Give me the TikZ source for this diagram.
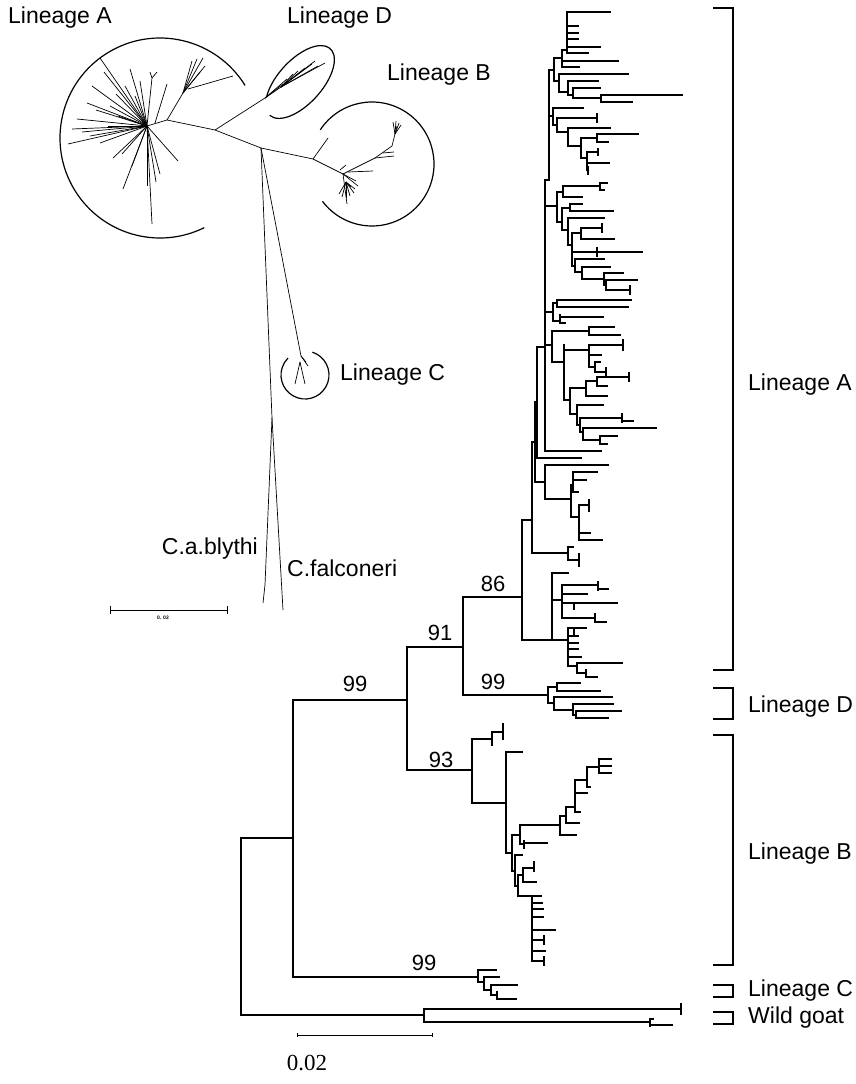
\documentclass[tikz,border=0pt]{standalone}
\usepackage{fontspec}
\setmainfont{Liberation Sans}
\newfontfamily\timesfont{Liberation Serif}
\usetikzlibrary{calc}
\tikzset{
  branch/.style={line width=1.1pt,line cap=rect},
  twig/.style={line width=.7pt},
  ring/.style={line width=1.2pt},
  bracket/.style={line width=1.2pt},
  boot/.style={font=\fontsize{22}{24}\selectfont,inner sep=0pt,anchor=base},
  lin/.style={font=\fontsize{23}{26}\selectfont,inner sep=0pt,anchor=west},
}
\begin{document}
\begin{tikzpicture}[x=1pt,y=-1pt]
\useasboundingbox (0,0) rectangle (856,1084);

% ---------- unrooted network (top left) ----------
\begin{scope}[shift={(0,-14)}]
\coordinate (hubA) at (147,140);
\coordinate (jA) at (167,134);
\coordinate (jD) at (215,144);
\coordinate (jO) at (261,162);
\coordinate (jX) at (313,173);
\coordinate (hubB) at (343,188);
\coordinate (tipD) at (265,112);
\coordinate (fanD) at (281,101);
\coordinate (subA) at (183,107);
\coordinate (subB) at (375,172);
\draw[twig] (hubA) -- (jA) -- (jD) -- (jO) -- (jX) -- (hubB);
\draw[twig] (jD) -- (tipD) -- (fanD);
\draw[twig] (jX) -- (328,152);
% lineage A star
\foreach \p in {(100,72),(104,86),(116,108),(92,100),(87,117),(96,124),(77,133),
  (72,143),(82,146),(68,158),(90,150),(100,157),(113,172),(122,168),(123,203),
  (132,180),(147,200),(152,238),(156,196),(160,188),(178,175),(130,83),(140,95),
  (125,100),(108,140),(118,130),(110,120),(135,110)}
  \draw[twig] (hubA) -- \p;
\draw[twig] (hubA) -- (152,92) -- (150,86);
\draw[twig] (152,92) -- (157,86);
\draw[twig] (155,137) -- (167,98);
\draw[twig] (jA) -- (subA);
\foreach \p in {(192,75),(197,73),(203,72),(205,80),(200,86)}
  \draw[twig] (subA) -- \p;
\draw[twig] (188,103) -- (233,90);
% lineage D fan
\foreach \p in {(315,75),(325,77),(318,80),(312,78),(305,82),(298,85),(293,88)}
  \draw[twig] (fanD) -- \p;
\draw[twig] (tipD) -- (287,93);
\draw[twig] (tipD) -- (283,98);
% lineage B
\draw[twig] (hubB) -- (subB) -- (392,160) -- (397,140);
\foreach \p in {(393,136),(396,135),(399,137),(401,139)}
  \draw[twig] (395,148) -- \p;
\draw[twig] (348,186) -- (373,185);
\draw[twig] (subB) -- (394,170);
\draw[twig] (383,167) -- (394,166);
\draw[twig] (340,184) -- (346,179);
\draw[twig] (hubB) -- (347,218);
\foreach \p in {(339,208),(342,211),(346,212),(350,210),(354,207),(355,203),(351,201)}
  \draw[twig] (346,196) -- \p;
\draw[twig] (hubB) -- (358,200);
\draw[twig] (hubB) -- (356,195);
% rings
\coordinate (cA) at (160,152);
\coordinate (cB) at (372,178);
\draw[ring] ([shift={(-31.7:100)}]cA) arc[start angle=-31.7,end angle=-296.3,radius=100];
\draw[ring] ([shift={(213.5:62)}]cB) arc[start angle=213.5,end angle=503,radius=62];
\begin{scope}[shift={(300,96)},rotate=47.7]
  \draw[ring] (221:45 and 22) arc[start angle=221,end angle=540,x radius=45,y radius=22];
\end{scope}
\end{scope}
% lineage C and the two outgroups
\coordinate (tipC) at (301,356);
\coordinate (split) at (272,418);
\coordinate (bly) at (263,603);
\coordinate (fal) at (283,610);
\coordinate (cC) at (305,375);
\draw[twig] (jO) -- (split);
\draw[twig] (jO) -- (tipC);
\draw[twig] (split) -- (265,585) -- (bly);
\draw[twig] (split) -- (fal);
\draw[twig] (tipC) -- (308,366);
\draw[twig] (tipC) -- (306,362);
\draw[twig] (300,362) -- (295,384);
\draw[twig] (300,362) -- (305,384);
\draw[ring] ([shift={(288:24)}]cC) arc[start angle=288,end angle=585,radius=24];
\node[lin] (uA) at (8,18) {Lineage A};
\node[lin] (uD) at (287,18) {Lineage D};
\node[lin] (uB) at (387,75) {Lineage B};
\node[lin] (uC) at (340,375) {Lineage C};
\node[lin,anchor=east] (uBly) at (258,549) {C.a.blythi};
\node[lin] (uFal) at (287,568) {C.falconeri};
% scale bar (network)
\coordinate (sbA) at (110,610);
\coordinate (sbB) at (227,610);
\draw[line width=1pt] (sbA) -- (sbB);
\draw[line width=1pt] (sbA) ++(0,-4) -- ++(0,8);
\draw[line width=1pt] (sbB) ++(0,-4) -- ++(0,8);
\node[font=\fontsize{5}{6}\selectfont\bfseries,inner sep=0pt] (sbT) at (163,618) {0. 02};

% ---------- rooted tree ----------
\coordinate (root) at (241,926);
\coordinate (nABCD) at (293,838);
\coordinate (nADB) at (407,700);
\coordinate (nC) at (478,977);
\coordinate (nG) at (424,1015);
\coordinate (nAD) at (463,647);
\coordinate (nB) at (472,770);
\coordinate (nA) at (522,597);
\coordinate (nD) at (548,695);
\draw[branch] (root) |- (nABCD);
\draw[branch] (root) |- (nG);
\draw[branch] (nABCD) |- (nADB);
\draw[branch] (nABCD) |- (nC);
\draw[branch] (nADB) |- (nAD);
\draw[branch] (nADB) |- (nB);
\draw[branch] (nAD) |- (nA);
\draw[branch] (nAD) |- (nD);
\node[boot] (b86) at (493,591) {86};
\node[boot] (b91) at (440,640) {91};
\node[boot] (b99a) at (355,691) {99};
\node[boot] (b99d) at (493,689) {99};
\node[boot] (b93) at (441,767) {93};
\node[boot] (b99c) at (424,970) {99};

% lineage A, vertical segments x/y1/y2
\foreach \x/\ya/\yb in {567/12/53, 562/50/67, 554/58/81, 559/74/92, 568/81/95,
  573/88/98, 601/95/102, 549/70/180, 545/180/451,
  553/108/125, 557/118/132, 568/128/146, 581/138/158, 597/134/142, 587/152/170,
  597/114/122, 598/149/155, 588/167/174,
  557/192/222, 563/186/197, 600/183/190, 562/208/230, 570/204/211, 568/218/245,
  572/233/266, 581/228/239, 602/224/232, 597/248/256,
  575/259/272, 582/267/279, 604/273/285, 606/280/290, 630/286/294,
  553/303/321, 557/300/307, 560/315/323,
  552/331/362, 589/327/335, 564/345/400, 589/345/367, 623/340/350, 595/362/372,
  606/368/376, 570/388/414, 586/381/396, 597/377/386, 629/373/381, 577/405/425,
  580/418/432, 622/414/422, 583/428/440, 600/436/444,
  537/347/458, 535/402/482, 545/465/499, 532/442/553,
  571/485/517, 573/472/492, 579/505/540, 589/500/511,
  568/547/560, 579/554/566, 522/520/640,
  552/573/640, 562/585/618, 598/582/590, 574/603/609, 595/614/622, 568/628/666,
  574/628/634, 577/663/673, 586/670/677}
  \draw[branch] (\x,\ya) -- (\x,\yb);
% lineage A, horizontal segments x1/x2/y
\foreach \xa/\xb/\y in {567/610/12, 567/578/26, 567/578/33, 567/578/39, 567/600/47,
  567/588/53, 562/567/50, 562/618/61, 562/579/67, 554/562/58, 554/559/81,
  559/628/74, 559/568/92, 568/598/81, 568/573/95, 573/600/88, 573/601/98,
  601/682/95, 601/632/102, 549/554/70,
  549/553/116, 553/583/108, 553/557/125, 557/597/118, 557/568/132, 568/610/128,
  568/581/146, 581/597/138, 597/638/134, 597/608/142, 581/587/158, 587/598/152,
  587/609/163, 587/588/170, 545/549/180,
  545/557/206, 557/563/192, 563/600/186, 600/607/183, 600/604/190, 563/582/197,
  557/562/222, 562/570/208, 570/582/204, 570/613/211, 562/568/230, 568/604/218,
  568/572/245, 572/581/233, 581/602/228, 581/614/239, 572/642/252, 572/575/266,
  575/604/259, 575/582/272, 582/610/267, 582/604/279, 604/623/273, 604/606/285,
  606/637/280, 606/630/290,
  545/553/312, 553/557/303, 557/631/300, 557/628/307, 553/560/321, 560/603/317,
  560/565/323,
  545/552/345, 552/589/331, 589/614/327, 589/620/335, 552/564/362, 564/589/350,
  589/623/345, 589/601/355, 589/595/367, 595/600/362, 595/606/372, 564/570/400,
  570/586/388, 586/597/381, 597/629/377, 597/607/386, 586/607/396, 570/577/414,
  577/603/405, 577/580/425, 580/622/418, 622/633/421, 580/583/432, 583/656/428,
  583/600/440, 600/617/436, 600/607/444,
  545/601/451, 537/545/347, 537/581/458, 535/537/402, 535/545/482, 545/608/465,
  545/571/499, 532/535/442, 532/568/553,
  571/573/485, 573/597/472, 573/586/480, 573/578/492, 571/579/517, 579/589/505,
  579/590/533, 579/602/540, 568/573/547, 568/579/560,
  522/532/520, 522/552/640,
  552/568/573, 552/562/600, 552/568/640, 562/598/585, 598/608/589, 562/587/594,
  562/617/603, 562/595/618, 595/606/622, 568/586/628, 568/578/636, 568/578/643,
  568/578/649, 568/581/657, 568/577/666, 577/622/663, 577/586/673, 586/597/677}
  \draw[branch] (\xa,\y) -- (\xb,\y);

% lineage D
\foreach \x/\ya/\yb in {548/687/703, 557/683/691, 554/697/710, 573/704/715, 576/711/718}
  \draw[branch] (\x,\ya) -- (\x,\yb);
\foreach \xa/\xb/\y in {548/557/687, 557/580/683, 557/600/691, 548/554/703, 554/612/697,
  554/573/710, 573/613/704, 573/576/715, 576/621/711, 576/608/718}
  \draw[branch] (\xa,\y) -- (\xb,\y);

% lineage B
\foreach \x/\ya/\yb in {472/739/803, 492/732/745, 503/724/739, 506/752/853, 512/835/871,
  520/825/844, 524/841/848, 560/816/835, 566/807/823, 575/780/812, 587/767/787,
  599/759/773, 515/855/886, 518/875/896, 523/868/882, 534/862/871, 532/896/961,
  544/936/944, 544/957/965}
  \draw[branch] (\x,\ya) -- (\x,\yb);
\foreach \xa/\xb/\y in {472/492/739, 492/503/732, 472/506/803, 506/522/752, 506/512/853,
  512/520/835, 520/560/825, 520/524/844, 524/547/843, 560/576/835, 560/566/816,
  566/575/807, 566/579/823, 575/587/780, 575/587/793, 575/580/812, 587/599/767,
  587/590/787, 599/611/759, 599/611/766, 599/611/773, 512/515/871, 515/522/855,
  515/518/886, 518/523/875, 523/534/868, 523/536/882, 518/532/896, 532/541/896,
  532/542/903, 532/543/909, 532/543/917, 532/555/930, 532/544/940, 532/545/951,
  532/544/961}
  \draw[branch] (\xa,\y) -- (\xb,\y);

% lineage C
\foreach \x/\ya/\yb in {478/970/982, 484/977/990, 491/985/995, 497/992/999}
  \draw[branch] (\x,\ya) -- (\x,\yb);
\foreach \xa/\xb/\y in {478/496/970, 478/484/982, 484/499/977, 484/491/990,
  491/517/985, 491/497/995, 497/516/999}
  \draw[branch] (\xa,\y) -- (\xb,\y);

% wild goat
\foreach \x/\ya/\yb in {424/1009/1022, 681/1004/1014, 650/1019/1026}
  \draw[branch] (\x,\ya) -- (\x,\yb);
\foreach \xa/\xb/\y in {424/681/1009, 424/650/1022, 650/653/1019, 650/672/1025}
  \draw[branch] (\xa,\y) -- (\xb,\y);

% scale bar (tree)
\coordinate (tbA) at (297,1035);
\coordinate (tbB) at (432,1035);
\draw[line width=1pt] (tbA) -- (tbB);
\draw[line width=1pt] (tbA) ++(0,-2) -- ++(0,4);
\draw[line width=1pt] (tbB) ++(0,-2) -- ++(0,4);
\node[font=\timesfont\fontsize{23}{26}\selectfont,inner sep=0pt] (tbT) at (307,1063) {0.02};

% lineage brackets
\foreach \nm/\ya/\yb/\ly/\txt in {A/8/670/385/Lineage A, D/688/719/707/Lineage D,
  B/735/965/854/Lineage B, C/985/997/991/Lineage C, G/1012/1024/1018/Wild goat}{
  \coordinate (br\nm t) at (713,\ya);
  \coordinate (br\nm b) at (713,\yb);
  \draw[bracket] (br\nm t) -- ++(20,0) |- (br\nm b);
  \node[lin] (lab\nm) at (748,\ly) {\txt};
}
\end{tikzpicture}
\end{document}
